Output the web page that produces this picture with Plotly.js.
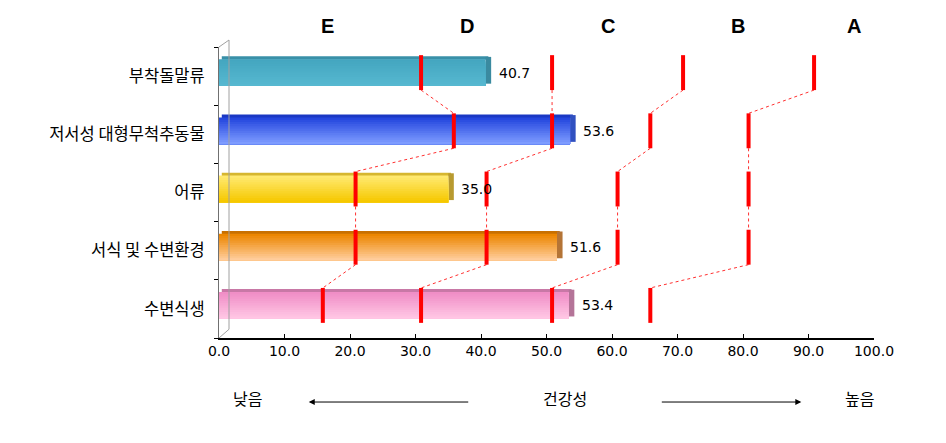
<!DOCTYPE html>
<html>
<head>
<meta charset="utf-8">
<script src="https://cdn.plot.ly/plotly-3.0.1.min.js"></script>
<style>
  html, body { margin: 0; padding: 0; background: #fff; }
  #chart { width: 946px; height: 443px; }
</style>
</head>
<body>
<div id="chart"></div>
<script>
// ---------------- data ----------------
const categories = ['부착돌말류', '저서성 대형무척추동물', '어류', '서식 및 수변환경', '수변식생'];
const scores = [40.7, 53.6, 35.0, 51.6, 53.4];
const gradeLetters = ['E', 'D', 'C', 'B', 'A'];
// grade cut points for each category (top to bottom)
const cutEtoD = [30, 35, 20, 20, 15];
const cutDtoC = [50, 50, 40, 40, 30];
const cutCtoB = [70, 65, 60, 60, 50];
const cutBtoA = [90, 80, 80, 80, 65];
const xTickValues = [0, 10, 20, 30, 40, 50, 60, 70, 80, 90, 100];
const axisWords = ['낮음', '건강성', '높음'];

// ---------------- style ----------------
const FONT = '"Noto Sans CJK KR", "Noto Sans", sans-serif';
const NUMFONT = '"DejaVu Sans", sans-serif';
const BAR_W = 0.46;       // bar thickness in category units
const SHIFT = -0.06;      // 3D lift of bars
const DEPTH_X = 0.85;     // 3D depth (back plane offset) in x units
const BANDS = 12;
const topColors    = ['#44a6c0', '#2446de', '#ffe970', '#ec8600', '#f08ec6'];
const bottomColors = ['#56b8d0', '#7e9cff', '#f6c800', '#ffcd9c', '#ffc6e4'];
const sideColors   = ['#3a8aa0', '#3050c0', '#b89a30', '#b47436', '#b47498'];
const roofColors   = ['#3990a8', '#1a38c4', '#d6b630', '#c87000', '#c878a6'];
const letterX = [16.6, 37.9, 59.4, 79.2, 97.0];

function hexToRgb(h) { return [1, 3, 5].map(i => parseInt(h.substr(i, 2), 16)); }
function mix(a, b, t) {
  const A = hexToRgb(a), B = hexToRgb(b);
  const c = A.map((v, i) => Math.round(v + (B[i] - v) * t));
  return 'rgb(' + c.join(',') + ')';
}

const yIdx = categories.map((_, i) => i);
const traces = [];

// roof (top face) strip
traces.push({
  type: 'bar', orientation: 'h', y: yIdx, x: scores, base: scores.map(() => DEPTH_X * 0.5),
  width: 0.06, offset: SHIFT - BAR_W / 2 - 0.05,
  marker: { color: roofColors, line: { width: 0 } }, hoverinfo: 'skip', showlegend: false
});
// side face
traces.push({
  type: 'bar', orientation: 'h', y: yIdx, x: scores.map(() => DEPTH_X), base: scores,
  width: BAR_W, offset: SHIFT - BAR_W / 2 - 0.04,
  marker: { color: sideColors, line: { width: 0 } }, hoverinfo: 'skip', showlegend: false
});
// gradient of the front face: overlapping layers, each reaching the bar bottom
for (let k = 0; k < BANDS; k++) {
  const t = k / (BANDS - 1);
  traces.push({
    type: 'bar', orientation: 'h', y: yIdx, x: scores,
    width: BAR_W - k * BAR_W / BANDS, offset: SHIFT - BAR_W / 2 + k * BAR_W / BANDS,
    marker: { color: topColors.map((c, i) => mix(c, bottomColors[i], t)), line: { width: 0 } },
    hoverinfo: 'skip', showlegend: false
  });
}

// grade boundary markers and connectors
const cuts = [cutEtoD, cutDtoC, cutCtoB, cutBtoA];
const segX = [], segY = [], conX = [], conY = [];
cuts.forEach(arr => {
  arr.forEach((b, i) => {
    segX.push(b + DEPTH_X, b + DEPTH_X, null);
    segY.push(i + SHIFT - 0.3, i + SHIFT + 0.3, null);
    if (i < arr.length - 1) {
      conX.push(b + DEPTH_X, arr[i + 1] + DEPTH_X, null);
      conY.push(i + SHIFT + 0.3, i + 1 + SHIFT - 0.3, null);
    }
  });
});
traces.push({
  type: 'scatter', mode: 'lines', x: conX, y: conY,
  line: { color: '#ff3030', width: 1, dash: 'dot' }, hoverinfo: 'skip', showlegend: false
});
traces.push({
  type: 'scatter', mode: 'lines', x: segX, y: segY,
  line: { color: '#ff0000', width: 4 }, hoverinfo: 'skip', showlegend: false
});

// annotations
const annotations = [];
scores.forEach((v, i) => {
  annotations.push({
    x: v, y: i + SHIFT, xref: 'x', yref: 'y', text: v.toFixed(1), showarrow: false,
    xanchor: 'left', yanchor: 'middle', xshift: 11, font: { family: NUMFONT, size: 14, color: '#000' }
  });
});
gradeLetters.forEach((g, i) => {
  annotations.push({
    x: letterX[i], y: 1.072, xref: 'x', yref: 'paper', text: '<b>' + g + '</b>', showarrow: false,
    xanchor: 'center', yanchor: 'middle',
    font: { family: 'Liberation Sans, Arial, sans-serif', size: 20, color: '#000' }
  });
});
const wordX = [4.4, 52.8, 97.8];
axisWords.forEach((w, i) => {
  annotations.push({
    x: wordX[i], y: -0.206, xref: 'x', yref: 'paper', text: w, showarrow: false,
    xanchor: 'center', yanchor: 'middle',
    font: { family: FONT, size: 16, color: '#000' }
  });
});
// arrows
annotations.push({
  x: 13.7, y: -0.22, xref: 'x', yref: 'paper', text: '', showarrow: true,
  ax: 161, ay: 0, arrowhead: 2, arrowsize: 1.2, arrowwidth: 1, arrowcolor: '#000'
});
annotations.push({
  x: 88.9, y: -0.22, xref: 'x', yref: 'paper', text: '', showarrow: true,
  ax: -141, ay: 0, arrowhead: 2, arrowsize: 1.2, arrowwidth: 1, arrowcolor: '#000'
});

// 3D wall edges
const wx = 10 / 655;
const shapes = [
  { type: 'line', xref: 'paper', yref: 'paper', x0: wx, x1: wx, y0: 0.03, y1: 1.024, line: { color: '#a0a0a0', width: 1 } },
  { type: 'line', xref: 'paper', yref: 'paper', x0: 0, x1: wx, y0: 1.0, y1: 1.024, line: { color: '#a0a0a0', width: 1 } },
  { type: 'line', xref: 'paper', yref: 'paper', x0: 0, x1: wx, y0: 0, y1: 0.03, line: { color: '#a0a0a0', width: 1 } }
];

const layout = {
  width: 946, height: 443,
  margin: { l: 219, r: 72, t: 47, b: 105 },
  paper_bgcolor: '#fff', plot_bgcolor: '#fff',
  barmode: 'overlay', showlegend: false,
  font: { family: FONT, size: 14, color: '#000' },
  xaxis: {
    range: [0, 100], fixedrange: true, showgrid: false, zeroline: false,
    tickvals: xTickValues, tickformat: '.1f',
    ticks: 'inside', ticklen: 4, tickcolor: '#000', tickwidth: 1,
    showline: true, linecolor: '#000', linewidth: 1.5,
    tickfont: { family: NUMFONT, size: 14, color: '#000' }
  },
  yaxis: {
    range: [4.5, -0.5], fixedrange: true, showgrid: false, zeroline: false,
    tickvals: yIdx, ticktext: categories, ticks: '',
    ticklabelstandoff: 10,
    showline: true, linecolor: '#707070', linewidth: 1,
    tickfont: { family: FONT, size: 16.5, color: '#000' },
    minor: { tickvals: [-0.5, 0.5, 1.5, 2.5, 3.5, 4.5], ticks: 'outside', ticklen: 4, tickcolor: '#000', showgrid: false }
  },
  annotations: annotations,
  shapes: shapes
};

Plotly.newPlot('chart', traces, layout, { staticPlot: true, displayModeBar: false });
</script>
</body>
</html>
